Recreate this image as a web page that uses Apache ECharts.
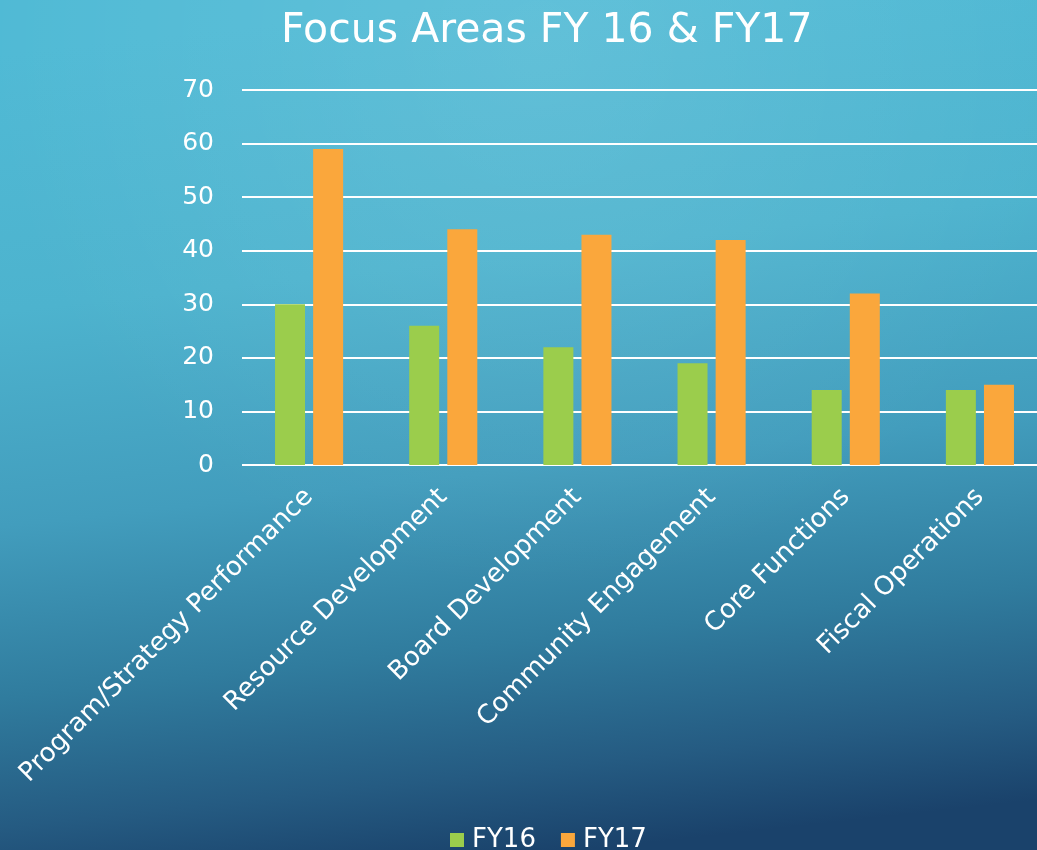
<!DOCTYPE html>
<html lang="en">
<head>
    <meta charset="UTF-8">
    <title>Focus Areas FY 16 & FY17</title>
    <script src="https://cdn.jsdelivr.net/npm/echarts@6/dist/echarts.min.js"></script>
    <style>
        html, body { margin: 0; padding: 0; }
        #main { width: 1037px; height: 850px; }
    </style>
</head>
<body>
<div id="main"></div>
<script>
    // data
    var categories = ['Program/Strategy Performance', 'Resource Development', 'Board Development',
        'Community Engagement', 'Core Functions', 'Fiscal Operations'];
    var fy16 = [30, 26, 22, 19, 14, 14];
    var fy17 = [59, 44, 43, 42, 32, 15];
    var seriesNames = ['FY16', 'FY17'];

    var font = 'DejaVu Sans';
    var myChart = echarts.init(document.getElementById('main'));

    myChart.setOption({
        backgroundColor: {
            type: 'linear', x: 0.47, y: 0, x2: 0.56, y2: 1,
            colorStops: [
                {offset: 0, color: '#50bad5'},
                {offset: 0.3, color: '#4db3ce'},
                {offset: 0.55, color: '#429dbd'},
                {offset: 0.75, color: '#307c9e'},
                {offset: 0.9, color: '#255b82'},
                {offset: 1, color: '#1a426b'}
            ]
        },
        // soft light spot behind the title
        graphic: [{
            type: 'rect',
            shape: {x: 0, y: 0, width: 1037, height: 850},
            silent: true,
            z: -10,
            style: {
                fill: {
                    type: 'radial', x: 0.52, y: 0.05, r: 0.65,
                    colorStops: [
                        {offset: 0, color: 'rgba(255,255,255,0.1)'},
                        {offset: 1, color: 'rgba(255,255,255,0)'}
                    ]
                }
            }
        }],
        title: {
            text: 'Focus Areas FY 16 & FY17',
            left: 276,
            top: 6,
            textStyle: {color: '#fff', fontFamily: font, fontWeight: 'normal', fontSize: 41}
        },
        legend: {
            data: seriesNames,
            top: 822,
            left: 445,
            itemWidth: 14,
            itemHeight: 14,
            itemGap: 25,
            icon: 'rect',
            textStyle: {color: '#fff', fontFamily: font, fontSize: 26, padding: [0, 0, 0, 3]}
        },
        grid: {
            left: 242,
            width: 805,
            top: 90,
            bottom: 385,
            outerBoundsMode: 'none',
            containLabel: false
        },
        xAxis: {
            type: 'category',
            data: categories,
            axisLine: {show: false},
            axisTick: {show: false},
            axisLabel: {
                rotate: 45,
                interval: 0,
                margin: 28,
                color: '#fff',
                fontFamily: font,
                fontSize: 26
            }
        },
        yAxis: {
            type: 'value',
            min: 0,
            max: 70,
            interval: 10,
            axisLine: {show: false},
            axisTick: {show: false},
            axisLabel: {color: '#fff', fontFamily: font, fontSize: 25, margin: 28},
            splitLine: {lineStyle: {color: '#ffffff', width: 2}}
        },
        series: [
            {
                name: seriesNames[0],
                type: 'bar',
                data: fy16,
                barWidth: 30,
                barGap: '27%',
                itemStyle: {color: '#9bcd4c'}
            },
            {
                name: seriesNames[1],
                type: 'bar',
                data: fy17,
                barWidth: 30,
                barGap: '27%',
                itemStyle: {color: '#faa73c'}
            }
        ]
    });
</script>
</body>
</html>
